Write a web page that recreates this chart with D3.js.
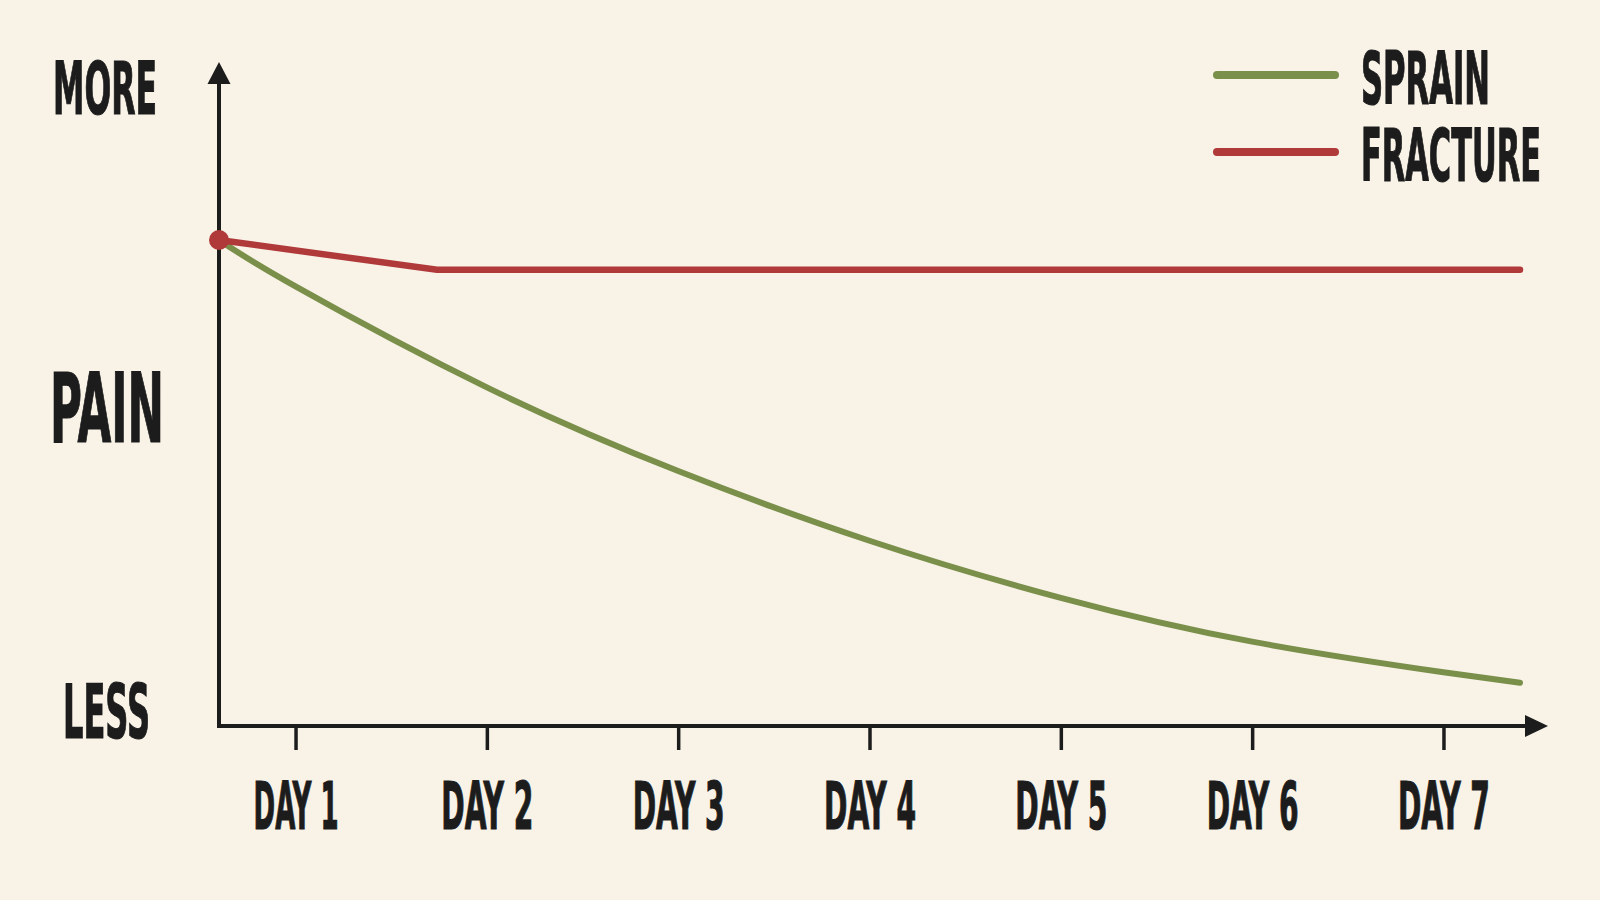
<!DOCTYPE html>
<html>
<head>
<meta charset="utf-8">
<script src="https://cdn.jsdelivr.net/npm/d3@7/dist/d3.min.js"></script>
<style>
  html, body { margin: 0; padding: 0; background: #f8f2e7; }
  svg { display: block; }
  text { font-family: "DejaVu Sans Condensed", "DejaVu Sans", sans-serif; font-weight: bold; fill: #1c1c1c; stroke: #1c1c1c; stroke-width: 1.2px; }
</style>
</head>
<body>
<svg id="chart" width="1600" height="900"></svg>
<script>
// ---- data ----
const days = [1, 2, 3, 4, 5, 6, 7];
const dayLabels = ["DAY 1", "DAY 2", "DAY 3", "DAY 4", "DAY 5", "DAY 6", "DAY 7"];
const sprainDays = [0.6, 1, 2, 3, 4, 5, 6, 7, 7.4];
const sprainPain = [7.32, 6.62, 5.10, 3.84, 2.79, 1.93, 1.27, 0.81, 0.65];
const fractureDays = [0.6, 1.74, 7.4];
const fracturePain = [7.32, 6.87, 6.87];
const seriesNames = ["SPRAIN", "FRACTURE"];
const seriesColors = ["#7a8f4a", "#b0393a"];
const yLabels = ["MORE", "PAIN", "LESS"];

// ---- setup ----
const svg = d3.select("#chart");
svg.append("rect").attr("width", 1600).attr("height", 900).attr("fill", "#f8f2e7");

const x = d3.scaleLinear().domain([0.6, 7.4]).range([219, 1520]);
const y = d3.scaleLinear().domain([0, 10]).range([726, 62]);
const ink = "#1c1c1c";

// squeeze a text horizontally to a target width (anchored at x,y)
function squeeze(node, px, py, width) {
  const n = node.getComputedTextLength();
  d3.select(node).attr("x", 0).attr("y", 0)
    .attr("transform", `translate(${px},${py}) scale(${width / n},1)`);
}

// axes lines with arrows
const x0 = x(0.6), yb = y(0);
svg.append("line").attr("x1", x0).attr("y1", yb + 2).attr("x2", x0).attr("y2", y(10) + 18)
  .attr("stroke", ink).attr("stroke-width", 4);
svg.append("path")
  .attr("d", `M${x0},${y(10)} L${x0 - 11.5},${y(10) + 22} L${x0 + 11.5},${y(10) + 22} Z`)
  .attr("fill", ink);
svg.append("line").attr("x1", x0 - 2).attr("y1", yb).attr("x2", x(7.4) + 10).attr("y2", yb)
  .attr("stroke", ink).attr("stroke-width", 4);
svg.append("path")
  .attr("d", `M${x(7.4) + 28},${yb} L${x(7.4) + 5},${yb - 11} L${x(7.4) + 5},${yb + 11} Z`)
  .attr("fill", ink);

// x axis ticks + labels
const xAxis = d3.axisBottom(x)
  .tickValues(days)
  .tickFormat((d, i) => dayLabels[i])
  .tickSize(24)
  .tickPadding(34)
  .tickSizeOuter(0);
const gx = svg.append("g").attr("transform", `translate(0,${yb})`).call(xAxis);
gx.select(".domain").remove();
gx.selectAll(".tick line").attr("stroke", ink).attr("stroke-width", 3.5);
gx.selectAll(".tick text")
  .attr("fill", "#1c1c1c")
  .style("font-size", "66px")
  .style("font-family", "'DejaVu Sans Condensed', 'DejaVu Sans', sans-serif")
  .style("font-weight", "bold")
  .attr("dy", null);
gx.selectAll(".tick text").each(function (d, i) {
  squeeze(this, 0, 103, i === 0 ? 85 : 92);
});

// y labels
const yLab = [
  { t: yLabels[0], x: 53, y: 114, size: 73, w: 104 },
  { t: yLabels[1], x: 50, y: 442, size: 96, w: 114 },
  { t: yLabels[2], x: 63, y: 738, size: 75, w: 87 }
];
svg.selectAll("text.ylab").data(yLab).enter().append("text")
  .attr("class", "ylab")
  .style("font-size", d => d.size + "px")
  .text(d => d.t)
  .each(function (d) { squeeze(this, d.x, d.y, d.w); });

// lines
const sprainData = sprainDays.map((d, i) => [d, sprainPain[i]]);
const fractureData = fractureDays.map((d, i) => [d, fracturePain[i]]);

svg.append("path").datum(sprainData)
  .attr("d", d3.line().x(d => x(d[0])).y(d => y(d[1])).curve(d3.curveNatural))
  .attr("fill", "none").attr("stroke", seriesColors[0]).attr("stroke-width", 6)
  .attr("stroke-linecap", "round").attr("stroke-linejoin", "round");
svg.append("path").datum(fractureData)
  .attr("d", d3.line().x(d => x(d[0])).y(d => y(d[1])))
  .attr("fill", "none").attr("stroke", seriesColors[1]).attr("stroke-width", 6.5)
  .attr("stroke-linecap", "round").attr("stroke-linejoin", "round");
svg.append("circle").attr("cx", x(fractureDays[0])).attr("cy", y(fracturePain[0]))
  .attr("r", 10).attr("fill", seriesColors[1]);

// legend
const legW = [129, 180];
const leg = svg.selectAll("g.leg").data(seriesNames).enter().append("g")
  .attr("class", "leg")
  .attr("transform", (d, i) => `translate(0,${75 + i * 77})`);
leg.append("line").attr("x1", 1217).attr("x2", 1335).attr("y1", 0).attr("y2", 0)
  .attr("stroke", (d, i) => seriesColors[i]).attr("stroke-width", 8).attr("stroke-linecap", "round");
leg.append("text")
  .style("font-size", "73px")
  .text(d => d)
  .each(function (d, i) { squeeze(this, 1361, 29, legW[i]); });
</script>
</body>
</html>
